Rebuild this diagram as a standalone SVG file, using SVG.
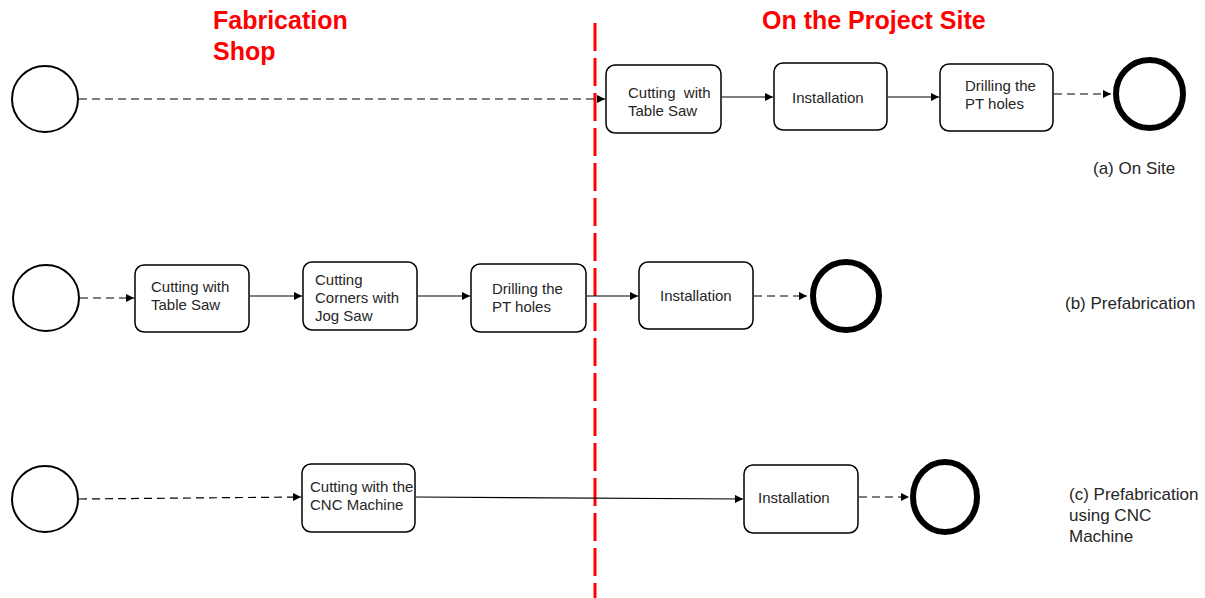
<svg xmlns="http://www.w3.org/2000/svg" width="1205" height="598" viewBox="0 0 1205 598">
  <defs>
    <marker id="arrow" viewBox="0 0 10 10" refX="10" refY="5" markerWidth="8" markerHeight="8" markerUnits="userSpaceOnUse" orient="auto">
      <path d="M0,0 L10,5 L0,10 Z" fill="#000"/>
    </marker>
    <style>
      .title { font-family: "Liberation Sans", Arial, sans-serif; font-weight: bold; font-size: 25px; fill: #ff0000; }
      .label { font-family: "Liberation Sans", Arial, sans-serif; font-size: 15px; fill: #262626; }
      .caption { font-family: "Liberation Sans", Arial, sans-serif; font-size: 17px; fill: #262626; }
      .task { fill: #fff; stroke: #000; stroke-width: 1.5; }
      .start { fill: #fff; stroke: #000; stroke-width: 2; }
      .end { fill: #fff; stroke: #000; stroke-width: 6; }
      .flow { fill: none; stroke: #000; stroke-width: 1.2; marker-end: url(#arrow); }
      .dashed { stroke-dasharray: 8 5; }
      .divider { stroke: #ff0000; stroke-width: 3; stroke-dasharray: 28 7; fill: none; }
    </style>
  </defs>
  <rect width="1205" height="598" fill="#fff"/>

  <!-- zone headings and divider -->
  <text class="title" x="213" y="29">Fabrication</text>
  <text class="title" x="213" y="60">Shop</text>
  <text class="title" x="762" y="29">On the Project Site</text>
  <line class="divider" x1="595" y1="23" x2="595" y2="598"/>

  <!-- connectors -->
  <g id="connectors">
    <!-- (a) on site -->
    <line class="flow dashed" x1="79" y1="99" x2="605" y2="99"/>
    <line class="flow" x1="722" y1="97" x2="773" y2="97"/>
    <line class="flow" x1="888" y1="97" x2="939" y2="97"/>
    <line class="flow dashed" x1="1054" y1="94" x2="1111" y2="94"/>
    <!-- (b) prefabrication -->
    <line class="flow dashed" x1="80" y1="298" x2="134" y2="298"/>
    <line class="flow" x1="250" y1="296" x2="302" y2="296"/>
    <line class="flow" x1="418" y1="296" x2="470" y2="296"/>
    <line class="flow" x1="587" y1="296" x2="638" y2="296"/>
    <line class="flow dashed" x1="754" y1="296" x2="807" y2="296"/>
    <!-- (c) prefabrication using CNC -->
    <line class="flow dashed" x1="79" y1="499" x2="301" y2="497"/>
    <line class="flow" x1="416" y1="497" x2="743" y2="499"/>
    <line class="flow dashed" x1="859" y1="497" x2="909" y2="497"/>
  </g>

  <!-- row (a) -->
  <g id="a-start"><circle class="start" cx="45" cy="99" r="33"/></g>
  <g id="a-cut">
    <rect class="task" x="606" y="65" width="115" height="68" rx="9"/>
    <text class="label" x="628" y="98" xml:space="preserve">Cutting  with</text>
    <text class="label" x="628" y="116">Table Saw</text>
  </g>
  <g id="a-install">
    <rect class="task" x="774" y="63" width="113" height="67" rx="9"/>
    <text class="label" x="792" y="103">Installation</text>
  </g>
  <g id="a-drill">
    <rect class="task" x="940" y="64" width="113" height="67" rx="9"/>
    <text class="label" x="965" y="91">Drilling the</text>
    <text class="label" x="965" y="109">PT holes</text>
  </g>
  <g id="a-end"><ellipse class="end" cx="1149.5" cy="94" rx="33.5" ry="34"/></g>
  <text class="caption" x="1093" y="174">(a) On Site</text>

  <!-- row (b) -->
  <g id="b-start"><circle class="start" cx="46" cy="298" r="33"/></g>
  <g id="b-cut">
    <rect class="task" x="135" y="265" width="114" height="67" rx="9"/>
    <text class="label" x="151" y="292">Cutting with</text>
    <text class="label" x="151" y="310">Table Saw</text>
  </g>
  <g id="b-corners">
    <rect class="task" x="303" y="262" width="114" height="68" rx="9"/>
    <text class="label" x="315" y="285">Cutting</text>
    <text class="label" x="315" y="303">Corners with</text>
    <text class="label" x="315" y="321">Jog Saw</text>
  </g>
  <g id="b-drill">
    <rect class="task" x="471" y="264" width="115" height="68" rx="9"/>
    <text class="label" x="492" y="294">Drilling the</text>
    <text class="label" x="492" y="312">PT holes</text>
  </g>
  <g id="b-install">
    <rect class="task" x="639" y="262" width="114" height="67" rx="9"/>
    <text class="label" x="660" y="301">Installation</text>
  </g>
  <g id="b-end"><ellipse class="end" cx="846" cy="296" rx="33" ry="34"/></g>
  <text class="caption" x="1065" y="309">(b) Prefabrication</text>

  <!-- row (c) -->
  <g id="c-start"><circle class="start" cx="45" cy="499" r="33"/></g>
  <g id="c-cnc">
    <rect class="task" x="302" y="464" width="113" height="68" rx="9"/>
    <text class="label" x="310" y="492">Cutting with the</text>
    <text class="label" x="310" y="510">CNC Machine</text>
  </g>
  <g id="c-install">
    <rect class="task" x="744" y="465" width="114" height="68" rx="9"/>
    <text class="label" x="758" y="503">Installation</text>
  </g>
  <g id="c-end"><ellipse class="end" cx="945" cy="497" rx="32" ry="35"/></g>
  <text class="caption" x="1069" y="500">(c) Prefabrication</text>
  <text class="caption" x="1069" y="521">using CNC</text>
  <text class="caption" x="1069" y="542">Machine</text>
</svg>
